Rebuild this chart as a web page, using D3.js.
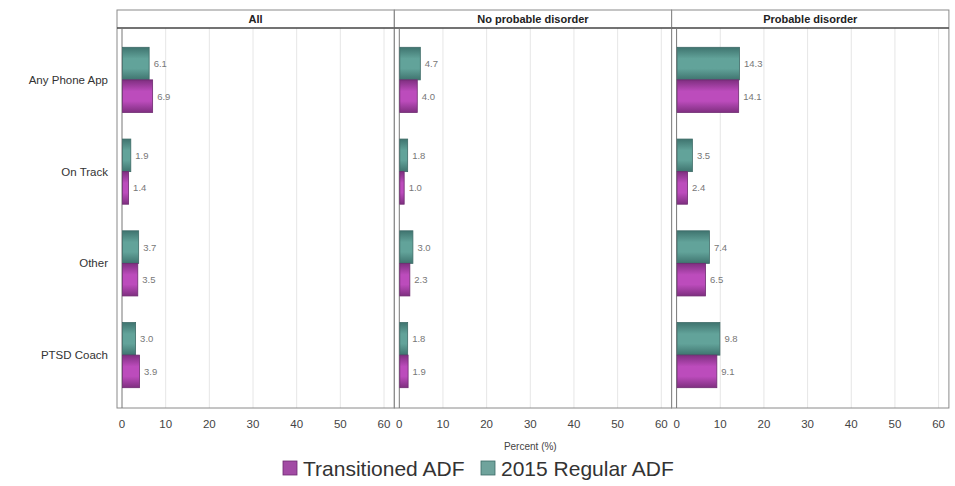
<!DOCTYPE html>
<html><head><meta charset="utf-8">
<script src="https://cdn.jsdelivr.net/npm/d3@7/dist/d3.min.js"></script>
<style>body{margin:0;background:#fff}svg{display:block;font-family:"Liberation Sans",Arial,sans-serif}</style>
</head><body><svg id="c" width="955" height="486"></svg>
<script>
const categories = ["Any Phone App", "On Track", "Other", "PTSD Coach"];
const panels = ["All", "No probable disorder", "Probable disorder"];
const seriesNames = ["2015 Regular ADF", "Transitioned ADF"];
const regularADF = [
  [6.1, 1.9, 3.7, 3.0],
  [4.7, 1.8, 3.0, 1.8],
  [14.3, 3.5, 7.4, 9.8]
];
const transitionedADF = [
  [6.9, 1.4, 3.5, 3.9],
  [4.0, 1.0, 2.3, 1.9],
  [14.1, 2.4, 6.5, 9.1]
];
const xTicks = [0, 10, 20, 30, 40, 50, 60];

const svg = d3.select("#c");
const defs = svg.append("defs");
function grad(id, edge, mid) {
  const g = defs.append("linearGradient").attr("id", id).attr("x1", 0).attr("y1", 0).attr("x2", 0).attr("y2", 1);
  g.append("stop").attr("offset", "0%").attr("stop-color", edge);
  g.append("stop").attr("offset", "35%").attr("stop-color", mid);
  g.append("stop").attr("offset", "65%").attr("stop-color", mid);
  g.append("stop").attr("offset", "100%").attr("stop-color", edge);
}
grad("gTeal", "#3f746f", "#62a39a");
grad("gMag", "#7f2f80", "#bc4cbc");
const fills = {"2015 Regular ADF": "url(#gTeal)", "Transitioned ADF": "url(#gMag)"};
const strokes = {"2015 Regular ADF": "#3d6a66", "Transitioned ADF": "#6e2a70"};
const legendFill = {"2015 Regular ADF": "#6fa39c", "Transitioned ADF": "#a24ba4"};

const panelLeft = 117, panelW = 277.3, topY = 10, headerH = 18, bottomY = 408;
const panelX = d3.scaleBand().domain(panels).range([panelLeft, panelLeft + panelW * 3]);
const x = d3.scaleLinear().domain([0, 60]).range([5, 267]);
const y = d3.scaleBand().domain(categories).range([34, 401]).paddingInner(0.29).paddingOuter(0.145);
const sub = d3.scaleBand().domain(seriesNames).range([0, y.bandwidth()]);

panels.forEach((p, pi) => {
  const g = svg.append("g").attr("transform", `translate(${panelX(p)},0)`);
  g.selectAll("line.grid").data(xTicks.slice(1)).join("line")
    .attr("x1", d => x(d)).attr("x2", d => x(d)).attr("y1", topY + headerH).attr("y2", bottomY)
    .attr("stroke", "#e6e6e6").attr("stroke-width", 1);
  g.append("rect").attr("x", 0).attr("y", topY).attr("width", panelW).attr("height", bottomY - topY)
    .attr("fill", "none").attr("stroke", "#8a8a8a").attr("stroke-width", 1);
  g.append("line").attr("x1", 0).attr("x2", panelW).attr("y1", topY + headerH).attr("y2", topY + headerH)
    .attr("stroke", "#444").attr("stroke-width", 1.6);
  g.append("text").attr("x", panelW / 2).attr("y", topY + 13).attr("text-anchor", "middle")
    .attr("font-size", 11).attr("font-weight", "bold").attr("fill", "#222").text(p);
  g.append("line").attr("x1", x(0)).attr("x2", x(0)).attr("y1", topY + headerH).attr("y2", bottomY)
    .attr("stroke", "#777").attr("stroke-width", 1);
  const rows = categories.map((c, ci) => ({c, vals: [
    {s: seriesNames[0], v: regularADF[pi][ci]},
    {s: seriesNames[1], v: transitionedADF[pi][ci]}]}));
  const cg = g.selectAll("g.cat").data(rows).join("g").attr("class", "cat").attr("transform", d => `translate(0,${y(d.c)})`);
  cg.selectAll("rect").data(d => d.vals).join("rect")
    .attr("x", x(0) + 0.5).attr("y", d => sub(d.s)).attr("height", sub.bandwidth())
    .attr("width", d => x(d.v) - x(0)).attr("fill", d => fills[d.s])
    .attr("stroke", d => strokes[d.s]).attr("stroke-width", 0.8);
  cg.selectAll("text").data(d => d.vals).join("text")
    .attr("x", d => x(d.v) + 5).attr("y", d => sub(d.s) + sub.bandwidth() / 2 + 3.5)
    .attr("font-size", 9.5).attr("fill", "#777").text(d => d3.format(".1f")(d.v));
  g.selectAll("text.tick").data(xTicks).join("text").attr("class", "tick")
    .attr("x", d => x(d)).attr("y", bottomY + 20).attr("text-anchor", "middle")
    .attr("font-size", 11.5).attr("fill", "#444").text(d => d);
});

svg.selectAll("text.catlab").data(categories).join("text").attr("class", "catlab")
  .attr("x", 108).attr("y", d => y(d) + y.bandwidth() / 2 + 4).attr("text-anchor", "end")
  .attr("font-size", 11.5).attr("fill", "#333").text(d => d);

svg.append("text").attr("x", panelX(panels[1]) + x(30)).attr("y", 450).attr("text-anchor", "middle")
  .attr("font-size", 10).attr("fill", "#444").text("Percent (%)");

const legendItems = [seriesNames[1], seriesNames[0]];
const legendX = [283, 481];
const lg = svg.selectAll("g.leg").data(legendItems).join("g").attr("class", "leg")
  .attr("transform", (d, i) => `translate(${legendX[i]},461)`);
lg.append("rect").attr("width", 14).attr("height", 14).attr("fill", d => legendFill[d])
  .attr("stroke", d => strokes[d]).attr("stroke-width", 0.8);
lg.append("text").attr("x", 20).attr("y", 15).attr("font-size", 21).attr("fill", "#333").text(d => d);
</script></body></html>
